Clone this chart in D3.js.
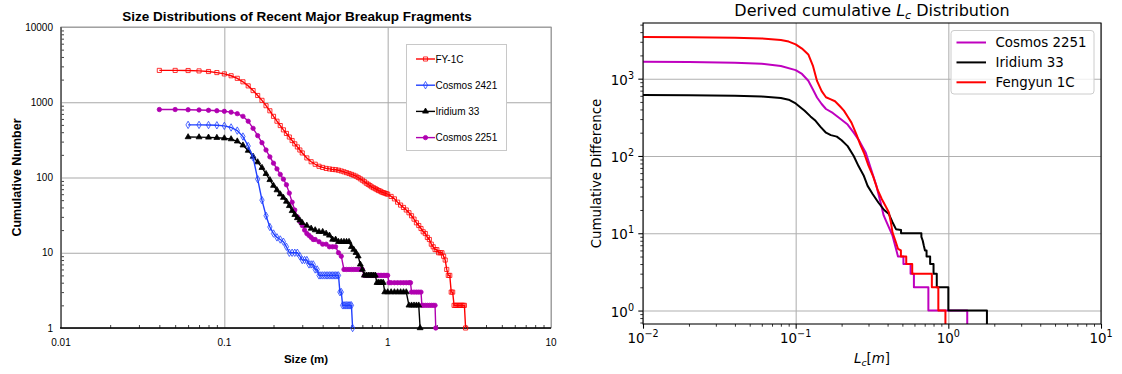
<!DOCTYPE html>
<html>
<head>
<meta charset="utf-8">
<script src="https://cdn.jsdelivr.net/npm/d3@7"></script>
<style>
  body { margin: 0; background: #fff; }
  svg { display: block; }
  text { white-space: pre; }
</style>
</head>
<body>
<script>
// ---- left panel data: [size (m), cumulative number] ----
const fy1c = [
  [0.04,2650],[0.05,2650],[0.06,2640],[0.07,2610],[0.08,2560],[0.09,2480],[0.10,2380],[0.11,2250],
  [0.12,2080],[0.13,1870],[0.14,1650],[0.15,1430],[0.16,1230],[0.17,1060],[0.18,900],[0.19,770],
  [0.20,650],[0.21,560],[0.22,490],[0.23,430],[0.24,385],[0.25,345],[0.26,310],[0.27,280],[0.28,255],
  [0.29,232],[0.30,212],[0.32,182],[0.34,162],[0.36,150],[0.38,141],[0.40,136],[0.42,132],[0.44,130],
  [0.46,128],[0.48,127],[0.50,125],[0.52,122],[0.54,119],[0.56,116],[0.58,113],[0.60,110],[0.62,107],
  [0.64,104],[0.66,100],[0.68,96],[0.70,92],[0.72,88],[0.74,84],[0.76,81],[0.78,78],[0.80,75],
  [0.82,73],[0.84,71],[0.86,69],[0.88,67],[0.90,66],[0.92,64],[0.94,63],[0.96,62],[0.98,61],[1.00,60],
  [1.05,56],[1.10,52],[1.15,47],[1.20,43],[1.25,40],[1.30,37],[1.35,34],[1.40,31],[1.45,28],[1.50,25],
  [1.55,23],[1.60,21],[1.65,19],[1.70,18],[1.75,16],[1.80,15],[1.85,13],[1.90,12],[1.95,11],[2.00,11],
  [2.05,10],[2.10,10],[2.15,10],[2.20,9],[2.25,8],[2.30,6],[2.35,5],[2.40,5],[2.45,3],[2.50,3],
  [2.55,2],[2.60,2],[2.65,2],[2.70,2],[2.75,2],[2.80,2],[2.85,2],[2.90,2],[2.95,2],[3.00,1]
];
const cosmos2421 = [
  [0.06,500],[0.07,500],[0.08,498],[0.09,494],[0.10,485],[0.11,462],[0.12,420],[0.13,350],[0.14,262],
  [0.15,185],[0.16,95],[0.17,50],[0.18,31],[0.19,22],[0.20,18],[0.21,16],[0.22,15],[0.23,14],[0.24,12],
  [0.25,10],[0.26,10],[0.27,10],[0.28,10],[0.29,9],[0.30,8],[0.31,8],[0.32,8],[0.33,7],[0.34,7],[0.35,7],
  [0.36,6],[0.37,6],[0.38,5],[0.39,5],[0.40,5],[0.41,5],[0.42,5],[0.43,5],[0.44,5],[0.45,5],[0.46,5],
  [0.47,5],[0.48,5],[0.49,5],[0.50,5],[0.51,3],[0.52,3],[0.53,2],[0.54,2],[0.55,2],[0.56,2],[0.57,2],
  [0.58,2],[0.59,2],[0.60,2],[0.61,1]
];
const iridium33 = [
  [0.06,345],[0.07,344],[0.08,341],[0.09,338],[0.10,333],[0.11,324],[0.12,303],[0.13,268],[0.14,228],
  [0.15,190],[0.16,160],[0.17,135],[0.18,112],[0.19,93],[0.20,78],[0.21,68],[0.22,60],[0.23,54],[0.24,48],
  [0.25,42],[0.26,36],[0.27,32],[0.28,29],[0.29,27],[0.30,25],[0.32,23],[0.34,21],[0.36,20],[0.38,19],
  [0.40,19],[0.42,18],[0.44,17],[0.46,15],[0.48,15],[0.50,14],[0.52,14],[0.54,14],[0.56,14],[0.58,14],
  [0.60,12],[0.62,11],[0.64,10],[0.66,9],[0.68,7],[0.70,6],[0.72,5],[0.74,5],[0.76,5],[0.78,5],[0.80,5],
  [0.82,5],[0.84,5],[0.86,4],[0.88,4],[0.90,4],[0.92,4],[0.94,4],[0.96,3],[1.00,3],[1.05,3],[1.10,3],
  [1.15,3],[1.20,3],[1.25,3],[1.30,3],[1.35,2],[1.40,2],[1.45,2],[1.50,2],[1.55,2],[1.58,1]
];
const cosmos2251 = [
  [0.04,800],[0.05,800],[0.06,795],[0.07,790],[0.08,782],[0.09,772],[0.10,758],[0.11,738],[0.12,705],
  [0.13,650],[0.14,560],[0.15,450],[0.16,360],[0.17,290],[0.18,232],[0.19,188],[0.20,155],[0.21,130],
  [0.22,110],[0.23,95],[0.24,80],[0.25,62],[0.26,47],[0.27,37],[0.28,30],[0.29,26],[0.30,23],[0.31,20],
  [0.32,18],[0.33,17],[0.34,16],[0.35,15],[0.36,15],[0.38,14],[0.40,13],[0.42,13],[0.44,12],[0.46,12],
  [0.48,12],[0.50,10],[0.52,9],[0.54,6],[0.56,6],[0.58,6],[0.60,6],[0.62,6],[0.64,6],[0.66,6],[0.68,6],
  [0.70,6],[0.72,5],[0.74,5],[0.76,5],[0.78,5],[0.80,5],[0.82,5],[0.84,5],[0.86,5],[0.88,5],[0.90,5],
  [0.92,5],[0.94,5],[0.96,5],[0.98,5],[1.00,5],[1.02,4],[1.05,4],[1.10,4],[1.15,4],[1.20,4],[1.25,4],
  [1.30,4],[1.35,4],[1.38,4],[1.40,3],[1.45,3],[1.50,3],[1.55,3],[1.60,3],[1.62,2],[1.65,2],[1.70,2],
  [1.75,2],[1.80,2],[1.85,2],[1.90,2],[1.95,2],[1.97,1]
];
const leftNames = ['FY-1C', 'Cosmos 2421', 'Iridium 33', 'Cosmos 2251'];
const leftXTicks = [0.01, 0.1, 1, 10];
const leftYTicks = [1, 10, 100, 1000, 10000];

// ---- right panel data: [Lc (m), cumulative difference] ----
const rCosmos2251 = [
  [0.01,1650],[0.02,1640],[0.04,1610],[0.06,1560],[0.08,1460],[0.10,1290],[0.11,1150],[0.121,940],
  [0.13,720],[0.138,570],[0.148,470],[0.158,405],[0.175,360],[0.197,300],[0.219,255],[0.24,200],
  [0.258,163],[0.275,130],[0.288,110],[0.31,70],[0.338,41],[0.36,25],[0.377,17],[0.40,13],[0.431,9.3],
  [0.454,6.3],[0.468,5],[0.508,5],[0.508,4],[0.566,4],[0.566,3],[0.595,3],[0.595,2],[0.74,2],[0.74,1],
  [1.33,1],[1.33,0.5]
];
const rIridium33 = [
  [0.01,617],[0.02,612],[0.04,602],[0.06,588],[0.08,562],[0.09,535],[0.10,478],[0.1145,384],[0.125,325],
  [0.135,285],[0.145,240],[0.158,200],[0.17,186],[0.186,178],[0.20,160],[0.219,134],[0.24,100],
  [0.258,74],[0.28,55],[0.296,41],[0.32,32],[0.348,25],[0.38,20],[0.408,17.7],[0.43,14],[0.454,11.3],
  [0.49,11],[0.49,10],[0.666,10],[0.666,9],[0.68,8],[0.69,7],[0.703,6],[0.72,6],[0.72,5],[0.76,5],
  [0.76,4],[0.80,4],[0.80,3],[0.84,3],[0.84,2],[1.0,2],[1.0,1],[1.79,1],[1.79,0.5]
];
const rFengyun1c = [
  [0.01,3450],[0.02,3430],[0.04,3390],[0.06,3320],[0.08,3170],[0.09,3020],[0.10,2780],[0.11,2450],
  [0.121,2060],[0.13,1450],[0.138,935],[0.148,690],[0.158,575],[0.17,540],[0.181,510],[0.195,440],
  [0.207,386],[0.22,320],[0.232,270],[0.25,190],[0.265,140],[0.28,110],[0.30,75],[0.321,55],[0.345,36],
  [0.367,27.6],[0.39,22],[0.408,18.6],[0.42,14],[0.431,10.2],[0.45,8],[0.468,6.3],[0.489,6],[0.489,5],
  [0.53,5],[0.53,4],[0.58,4],[0.58,3],[0.78,3],[0.78,2],[0.86,2],[0.86,1],[0.957,1],[0.957,0.5]
];
const rightNames = ['Cosmos 2251', 'Iridium 33', 'Fengyun 1C'];
const rightXTicks = [0.01, 0.1, 1, 10];
const rightYTicks = [1, 10, 100, 1000];

const W = 1122, H = 374;
const svg = d3.select('body').append('svg').attr('width', W).attr('height', H);

const isMajor = v => Math.abs(Math.log10(v) - Math.round(Math.log10(v))) < 1e-9;

// ================= left panel (spreadsheet style) =================
const LP = { x0: 61, x1: 551, y0: 27, y1: 328 };
const ARIAL = '"Liberation Sans", Arial, Helvetica, sans-serif';
const xL = d3.scaleLog().domain([0.01, 10]).range([LP.x0, LP.x1]);
const yL = d3.scaleLog().domain([1, 10000]).range([LP.y1, LP.y0]);
const gL = svg.append('g').attr('font-family', ARIAL);

// grid lines
gL.append('g')
  .attr('transform', `translate(0,${LP.y1})`)
  .call(d3.axisBottom(xL).tickValues(leftXTicks).tickSize(LP.y0 - LP.y1).tickFormat(''))
  .call(g => g.select('.domain').remove())
  .selectAll('line').attr('stroke', '#a9a9a9');
gL.append('g')
  .attr('transform', `translate(${LP.x0},0)`)
  .call(d3.axisLeft(yL).tickValues(leftYTicks).tickSize(LP.x0 - LP.x1).tickFormat(''))
  .call(g => g.select('.domain').remove())
  .selectAll('line').attr('stroke', '#a9a9a9');

gL.append('rect')
  .attr('x', LP.x0).attr('y', LP.y0)
  .attr('width', LP.x1 - LP.x0).attr('height', LP.y1 - LP.y0)
  .attr('fill', 'none').attr('stroke', '#9a9a9a');

// inward ticks (minor)
const xMinorL = xL.ticks().filter(v => !isMajor(v));
const yMinorL = yL.ticks().filter(v => !isMajor(v));
gL.append('g').attr('transform', `translate(0,${LP.y1})`)
  .call(d3.axisBottom(xL).tickValues(xMinorL).tickSize(-3).tickFormat(''))
  .call(g => g.select('.domain').remove())
  .selectAll('line').attr('stroke', '#444');
gL.append('g').attr('transform', `translate(${LP.x0},0)`)
  .call(d3.axisLeft(yL).tickValues(yMinorL).tickSize(-3).tickFormat(''))
  .call(g => g.select('.domain').remove())
  .selectAll('line').attr('stroke', '#444');

// axis lines
gL.append('line').attr('x1', LP.x0).attr('x2', LP.x0).attr('y1', LP.y0).attr('y2', LP.y1)
  .attr('stroke', '#555').attr('stroke-width', 1.5);
gL.append('line').attr('x1', LP.x0 - 1).attr('x2', LP.x1).attr('y1', LP.y1).attr('y2', LP.y1)
  .attr('stroke', '#000').attr('stroke-width', 1.5);

// tick labels
gL.append('g').selectAll('text').data(leftXTicks).join('text')
  .attr('x', d => xL(d)).attr('y', 346).attr('text-anchor', 'middle')
  .attr('font-size', 10).text(d => String(d));
gL.append('g').selectAll('text').data(leftYTicks).join('text')
  .attr('x', 53).attr('y', d => yL(d) + 3.5).attr('text-anchor', 'end')
  .attr('font-size', 10).text(d => String(d));

// titles
gL.append('text').attr('x', 297).attr('y', 20.5).attr('text-anchor', 'middle')
  .attr('font-size', 13.5).attr('font-weight', 'bold')
  .text('Size Distributions of Recent Major Breakup Fragments');
gL.append('text').attr('x', 306).attr('y', 363).attr('text-anchor', 'middle')
  .attr('font-size', 11.5).attr('font-weight', 'bold').text('Size (m)');
gL.append('text').attr('transform', `translate(21,${(LP.y0 + LP.y1) / 2}) rotate(-90)`)
  .attr('text-anchor', 'middle').attr('font-size', 12.5).attr('font-weight', 'bold')
  .text('Cumulative Number');

// series
const leftSeries = [
  { name: leftNames[0], data: fy1c, color: '#ff0000', symbol: d3.symbolSquare, size: 17, fill: 'none' },
  { name: leftNames[1], data: cosmos2421, color: '#2040ff', symbol: d3.symbolDiamond, size: 16, fill: 'none' },
  { name: leftNames[2], data: iridium33, color: '#000000', symbol: d3.symbolTriangle, size: 15, fill: '#000' },
  { name: leftNames[3], data: cosmos2251, color: '#b000b0', symbol: d3.symbolCircle, size: 15, fill: '#b000b0' }
];
const lineL = d3.line().x(d => xL(d[0])).y(d => yL(d[1]));
const plotL = gL.append('g');
// draw in reverse so FY-1C sits on top like the original
leftSeries.slice().reverse().forEach(s => {
  const g = plotL.append('g');
  g.append('path').datum(s.data).attr('d', lineL)
    .attr('fill', 'none').attr('stroke', s.color).attr('stroke-width', 1.4);
  g.selectAll('path.m').data(s.data).join('path').attr('class', 'm')
    .attr('transform', d => `translate(${xL(d[0])},${yL(d[1])})`)
    .attr('d', d3.symbol(s.symbol, s.size))
    .attr('fill', s.fill).attr('stroke', s.color).attr('stroke-width', 0.8);
});

// legend
const legL = gL.append('g');
legL.append('rect').attr('x', 406.5).attr('y', 44.5).attr('width', 100).attr('height', 106)
  .attr('fill', '#fff').attr('stroke', '#c8c8c8');
leftSeries.forEach((s, i) => {
  const y = 59 + i * 26.2;
  legL.append('line').attr('x1', 416).attr('x2', 435).attr('y1', y).attr('y2', y)
    .attr('stroke', s.color).attr('stroke-width', 1.4);
  legL.append('path').attr('transform', `translate(425.5,${y})`)
    .attr('d', d3.symbol(s.symbol, s.size))
    .attr('fill', s.fill).attr('stroke', s.color).attr('stroke-width', 0.8);
  legL.append('text').attr('x', 435.5).attr('y', y + 3.6).attr('font-size', 10).text(s.name);
});

// ================= right panel (matplotlib style) =================
const RP = { x0: 643, x1: 1101, y0: 23, y1: 324 };
const DEJAVU = '"DejaVu Sans", sans-serif';
const FS = 13.4;
const xR = d3.scaleLog().domain([0.01, 10]).range([RP.x0, RP.x1]);
const yR = d3.scaleLog().domain([0.67, 5250]).range([RP.y1, RP.y0]);
const gR = svg.append('g').attr('font-family', DEJAVU);

// grid
gR.append('g').attr('transform', `translate(0,${RP.y1})`)
  .call(d3.axisBottom(xR).tickValues(rightXTicks).tickSize(RP.y0 - RP.y1).tickFormat(''))
  .call(g => g.select('.domain').remove())
  .selectAll('line').attr('stroke', '#b0b0b0').attr('stroke-width', 1.07);
gR.append('g').attr('transform', `translate(${RP.x0},0)`)
  .call(d3.axisLeft(yR).tickValues(rightYTicks).tickSize(RP.x0 - RP.x1).tickFormat(''))
  .call(g => g.select('.domain').remove())
  .selectAll('line').attr('stroke', '#b0b0b0').attr('stroke-width', 1.07);

// curves
const rightSeries = [
  { name: rightNames[0], data: rCosmos2251, color: '#bf00bf' },
  { name: rightNames[1], data: rIridium33, color: '#000000' },
  { name: rightNames[2], data: rFengyun1c, color: '#ff0000' }
];
svg.append('clipPath').attr('id', 'clipR').append('rect')
  .attr('x', RP.x0).attr('y', RP.y0).attr('width', RP.x1 - RP.x0).attr('height', RP.y1 - RP.y0);
const lineR = d3.line().x(d => xR(d[0])).y(d => yR(d[1]));
gR.append('g').attr('clip-path', 'url(#clipR)')
  .selectAll('path').data(rightSeries).join('path')
  .attr('d', d => lineR(d.data))
  .attr('fill', 'none').attr('stroke', d => d.color).attr('stroke-width', 2)
  .attr('stroke-linejoin', 'round');

// spines
gR.append('rect').attr('x', RP.x0).attr('y', RP.y0)
  .attr('width', RP.x1 - RP.x0).attr('height', RP.y1 - RP.y0)
  .attr('fill', 'none').attr('stroke', '#000').attr('stroke-width', 1.07);

// outward ticks
const xMinorR = xR.ticks().filter(v => !isMajor(v));
const yMinorR = d3.scaleLog().domain([0.1, 10000]).ticks()
  .filter(v => !isMajor(v) && v >= 0.67 && v <= 5250);
function tickAxis(axis, pos, vals, len, w) {
  gR.append('g').attr('transform', pos)
    .call(axis.tickValues(vals).tickSize(len).tickFormat(''))
    .call(g => g.select('.domain').remove())
    .selectAll('line').attr('stroke', '#000').attr('stroke-width', w);
}
tickAxis(d3.axisBottom(xR), `translate(0,${RP.y1})`, rightXTicks, 4.7, 1.07);
tickAxis(d3.axisBottom(xR), `translate(0,${RP.y1})`, xMinorR, 2.7, 0.8);
tickAxis(d3.axisLeft(yR), `translate(${RP.x0},0)`, rightYTicks, 4.7, 1.07);
tickAxis(d3.axisLeft(yR), `translate(${RP.x0},0)`, yMinorR, 2.7, 0.8);

// tick labels 10^n
function powLabel(sel, d) {
  const e = Math.round(Math.log10(d));
  sel.append('tspan').text('10');
  sel.append('tspan').attr('font-size', 9.6).attr('dy', -6)
    .text(e < 0 ? '\u2212' + Math.abs(e) : String(e));
}
gR.append('g').selectAll('text').data(rightXTicks).join('text')
  .attr('x', d => xR(d)).attr('y', 343).attr('text-anchor', 'middle').attr('font-size', FS)
  .each(function (d) { powLabel(d3.select(this), d); });
gR.append('g').selectAll('text').data(rightYTicks).join('text')
  .attr('x', 634).attr('y', d => yR(d) + 6).attr('text-anchor', 'end').attr('font-size', FS)
  .each(function (d) { powLabel(d3.select(this), d); });

// title and axis labels
const title = gR.append('text').attr('x', (RP.x0 + RP.x1) / 2).attr('y', 16)
  .attr('text-anchor', 'middle').attr('font-size', 16);
title.append('tspan').text('Derived cumulative ');
title.append('tspan').attr('font-style', 'italic').text('L');
title.append('tspan').attr('font-style', 'italic').attr('font-size', 11.2).attr('dy', 3).text('c');
title.append('tspan').attr('dy', -3).text(' Distribution');

const xlab = gR.append('text').attr('x', (RP.x0 + RP.x1) / 2).attr('y', 363)
  .attr('text-anchor', 'middle').attr('font-size', FS);
xlab.append('tspan').attr('font-style', 'italic').text('L');
xlab.append('tspan').attr('font-style', 'italic').attr('font-size', 9.4).attr('dy', 2.5).text('c');
xlab.append('tspan').attr('dy', -2.5).text('[');
xlab.append('tspan').attr('font-style', 'italic').text('m');
xlab.append('tspan').text(']');

gR.append('text').attr('transform', `translate(601,${(RP.y0 + RP.y1) / 2}) rotate(-90)`)
  .attr('text-anchor', 'middle').attr('font-size', FS).text('Cumulative Difference');

// legend
const legR = gR.append('g');
legR.append('rect').attr('x', 951).attr('y', 30.5).attr('width', 143).attr('height', 63.5)
  .attr('rx', 3).attr('fill', '#fff').attr('fill-opacity', 0.8)
  .attr('stroke', '#cccccc').attr('stroke-width', 1);
rightSeries.forEach((s, i) => {
  const y = 42.5 + i * 19.9;
  legR.append('line').attr('x1', 956.5).attr('x2', 986).attr('y1', y).attr('y2', y)
    .attr('stroke', s.color).attr('stroke-width', 2);
  legR.append('text').attr('x', 995.5).attr('y', y + 4.8).attr('font-size', FS).text(s.name);
});
</script>
</body>
</html>
